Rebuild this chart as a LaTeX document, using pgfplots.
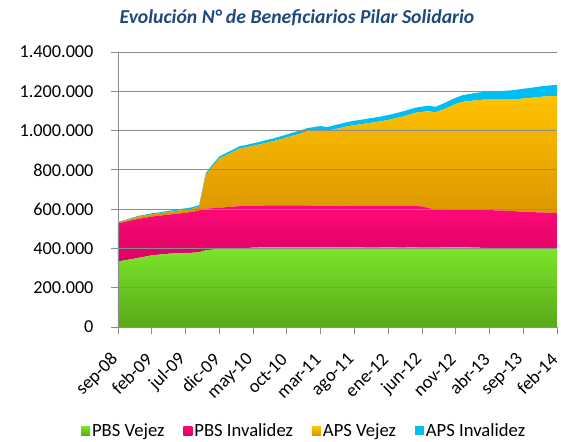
\documentclass[border=0pt]{standalone}
\usepackage{pgfplots}
\usepackage{pgfplotstable}
\pgfplotsset{compat=1.18}
\usepackage{fontspec}
\setmainfont{Carlito}
\definecolor{gtop}{HTML}{7AE62A}
\definecolor{gbot}{HTML}{5AA819}
\definecolor{ptop}{HTML}{FF0A78}
\definecolor{pbot}{HTML}{DC0064}
\definecolor{otop}{HTML}{FFC200}
\definecolor{obot}{HTML}{D99400}
\definecolor{cyanc}{HTML}{00BEF2}
\definecolor{titleblue}{HTML}{1F497D}
\definecolor{gridc}{HTML}{8C8C8C}

\pgfkeys{/pgf/number format/.cd, fixed, use comma, 1000 sep={.}, assume math mode=true}

\pgfplotstableread{
m pbsv pbsi apsv apsi
0 333000 195000 4000 2000
1 340000 195000 7000 3000
2 345000 198000 9000 3000
3 352000 198000 12000 4000
4 358000 198000 12000 4000
5 365000 197000 12000 5000
6 368000 198000 12000 5000
7 372000 198000 13000 6000
8 374000 200000 14000 6000
9 376000 201000 16000 7000
10 378000 204000 15000 7000
11 378000 208000 16000 8000
12 380000 214000 18000 8000
13 391000 211000 173000 9000
14 394000 211000 213000 10000
15 397000 210000 251000 10000
16 398000 212000 265000 11000
17 400000 213000 279000 11000
18 401000 214000 293000 12000
19 402000 214000 299000 12000
20 404000 214000 304000 13000
21 405000 213000 312000 13000
22 405000 214000 319000 14000
23 406000 213000 327000 14000
24 406000 213000 336000 15000
25 407000 212000 346000 15000
26 407000 212000 356000 16000
27 407000 212000 366000 16000
28 407000 212000 376000 17000
29 407000 211000 382000 18000
30 407000 211000 385000 20000
31 405000 212000 381000 20000
32 406000 212000 388000 21000
33 407000 210000 397000 21000
34 407000 211000 404000 22000
35 406000 211000 411000 22000
36 405000 211000 416000 23000
37 404000 212000 422000 23000
38 404000 212000 426000 24000
39 405000 211000 432000 24000
40 406000 210000 438000 25000
41 405000 211000 446000 25000
42 404000 212000 454000 26000
43 405000 211000 464000 26000
44 405000 211000 474000 26000
45 404000 210000 481000 27000
46 404000 201000 493000 28000
47 404000 195000 494000 28000
48 405000 194000 506000 30000
49 405000 194000 521000 31000
50 405000 194000 536000 32000
51 405000 194000 547000 34000
52 405000 193000 552000 36000
53 404000 194000 556000 38000
54 403000 194000 560000 39000
55 402000 193000 563000 40000
56 400000 194000 564000 42000
57 399000 194000 565000 44000
58 398000 193000 567000 46000
59 398000 191000 571000 48000
60 398000 189000 576000 50000
61 399000 186000 581000 51000
62 400000 184000 586000 52000
63 398000 185000 590000 54000
64 397000 185000 593000 55000
65 396000 184000 597000 56000
}\datatable

\begin{document}
\begin{tikzpicture}
\useasboundingbox (-118bp,-115bp) rectangle (443bp,327bp);
\begin{axis}[
  at={(0,0)}, anchor=south west,
  scale only axis, width=439bp, height=275bp,
  stack plots=y, area style,
  every axis plot post/.append style={legend image code/.code={\path[##1] (0bp,-4.5bp) rectangle (9bp,4.5bp);}},
  xmin=0, xmax=65, ymin=0, ymax=1400000,
  axis lines*=left,
  axis line style={gridc, line width=0.8pt},
  tick style={gridc, line width=0.8pt},
  tick align=outside, major tick length=7bp,
  ymajorgrids, grid style={gridc, line width=0.8pt},
  ytick={0,200000,400000,600000,800000,1000000,1200000,1400000},
  scaled y ticks=false,
  yticklabel={\pgfmathprintnumber{\tick}\hspace*{14bp}},
  yticklabel style={font=\fontsize{18.3}{21}\selectfont, text=black},
  xtick={0,5,...,65},
  xticklabels={sep-08,feb-09,jul-09,dic-09,may-10,oct-10,mar-11,ago-11,ene-12,jun-12,nov-12,abr-13,sep-13,feb-14},
  xticklabel style={font=\fontsize{18.5}{21}\selectfont, xshift=-2bp, yshift=-22bp, rotate=45, anchor=east, inner sep=1pt, text=black},
  legend columns=4,
  legend style={at={(0.424,-0.378)}, anchor=center, draw=none, font=\fontsize{18.7}{21}\selectfont,
    /tikz/every even column/.append style={column sep=17bp}},
  legend cell align=left,
]
\addplot[draw=none, top color=gtop, bottom color=gbot] table[x=m, y=pbsv] {\datatable} \closedcycle;
\addlegendentry{PBS Vejez}
\addplot[draw=none, top color=ptop, bottom color=pbot] table[x=m, y=pbsi] {\datatable} \closedcycle;
\addlegendentry{PBS Invalidez}
\addplot[draw=none, top color=otop, bottom color=obot] table[x=m, y=apsv] {\datatable} \closedcycle;
\addlegendentry{APS Vejez}
\addplot[draw=none, fill=cyanc] table[x=m, y=apsi] {\datatable} \closedcycle;
\addlegendentry{APS Invalidez}
\end{axis}
\node[font=\fontsize{19.8}{23}\selectfont\bfseries\itshape, text=titleblue] at (179bp,309bp) {Evolución N° de Beneficiarios Pilar Solidario};
\end{tikzpicture}
\end{document}
